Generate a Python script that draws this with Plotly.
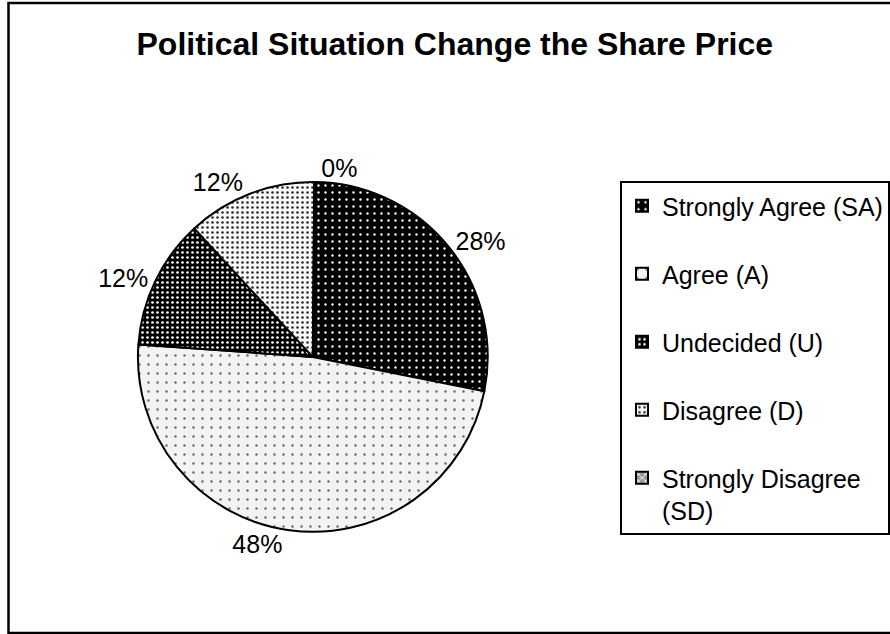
import plotly.graph_objects as go

# Survey responses: "Political situation changes the share price"
categories = ["Strongly Agree (SA)", "Agree (A)", "Undecided (U)", "Disagree (D)", "Strongly Disagree<br>(SD)"]
shares = [28, 48, 12, 12, 0]

# Fill patterns for each response category (black & white print style)
bg_colors = ["#000000", "#f3f3f3", "#000000", "#f7f7f7", "#9a9a9a"]
fg_colors = ["#ffffff", "#6a6a6a", "#ffffff", "#2a2a2a", "#ffffff"]
pattern_shapes = [".", ".", ".", ".", "x"]
pattern_sizes = [7, 9, 5, 5, 5]
pattern_solidity = [0.09, 0.06, 0.22, 0.2, 0.3]

# Legend entries get a blank second line for roomy spacing
legend_labels = [c if "<br>" in c else c + "<br> " for c in categories]

FONT = "Liberation Sans, Arial, sans-serif"

fig = go.Figure(
    go.Pie(
        labels=legend_labels,
        values=shares,
        sort=False,
        direction="clockwise",
        # a hair past 12 o'clock keeps the empty slice's label on the right half
        rotation=0.5,
        textinfo="percent",
        texttemplate="%{percent:.0%}",
        textposition="outside",
        textfont=dict(family=FONT, size=25, color="black"),
        outsidetextfont=dict(family=FONT, size=25, color="black"),
        marker=dict(
            colors=bg_colors,
            line=dict(color="black", width=2),
            pattern=dict(
                shape=pattern_shapes,
                bgcolor=bg_colors,
                fgcolor=fg_colors,
                size=pattern_sizes,
                solidity=pattern_solidity,
            ),
        ),
        domain=dict(x=[0.155, 0.548], y=[0.161, 0.713]),
        hoverinfo="label+percent",
    )
)

fig.update_layout(
    width=890,
    height=634,
    margin=dict(l=0, r=0, t=0, b=0, autoexpand=False),
    paper_bgcolor="white",
    plot_bgcolor="white",
    font=dict(family=FONT, size=25, color="black"),
    title=dict(
        text="<b>Political Situation Change the Share Price</b>",
        font=dict(family=FONT, size=32, color="black"),
        x=0.511,
        xanchor="center",
        y=1 - 44 / 634,
        yanchor="middle",
        yref="container",
    ),
    legend=dict(
        x=620 / 890,
        xanchor="left",
        y=1 - 181 / 634,
        yanchor="top",
        bgcolor="white",
        bordercolor="black",
        borderwidth=2,
        valign="top",
        font=dict(family=FONT, size=25, color="black"),
    ),
    shapes=[
        dict(
            type="rect",
            xref="paper",
            yref="paper",
            x0=8.5 / 890,
            x1=1.01,
            y0=1 - 633 / 634,
            y1=1 - 3 / 634,
            line=dict(color="black", width=2.5),
            fillcolor="rgba(0,0,0,0)",
            layer="below",
        )
    ],
)

fig.write_html("out.html")
